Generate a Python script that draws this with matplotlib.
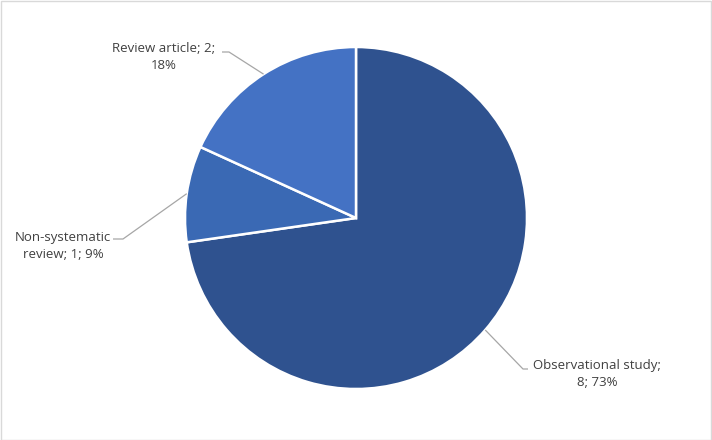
import numpy as np
import matplotlib.pyplot as plt
from matplotlib.patches import Rectangle

# chart data
categories = ['Observational study', 'Non-systematic review', 'Review article']
counts = [8, 1, 2]
label_texts = ['Observational study;\n8; 73%', 'Non-systematic\nreview; 1; 9%', 'Review article; 2;\n18%']
colors = ['#2F528F', '#3A69B4', '#4472C4']

W, H = 712, 440
cx, cy, R = 356, H - 218, 171

fig = plt.figure(figsize=(W / 100, H / 100), dpi=100)
ax = fig.add_axes([0, 0, 1, 1])
ax.set_xlim(0, W)
ax.set_ylim(0, H)
ax.set_aspect('equal')
ax.axis('off')

wedges, _ = ax.pie(counts, colors=colors, startangle=90, counterclock=False,
                   center=(cx, cy), radius=R, frame=True,
                   wedgeprops=dict(edgecolor='white', linewidth=1.8))
ax.set_xlim(0, W)
ax.set_ylim(0, H)
ax.axis('off')

# label layout: text center, elbow point (in pixels from top-left)
layout = [
    dict(text=(597, 374), elbow=[(528, 369), (523, 369)]),
    dict(text=(63, 246), elbow=[(113, 239), (123, 239)]),
    dict(text=(164, 57), elbow=[(222, 52), (229, 52)]),
]

for w, lab, lay in zip(wedges, label_texts, layout):
    mid = np.deg2rad((w.theta1 + w.theta2) / 2)
    ax_pt = (cx + R * np.cos(mid), cy + R * np.sin(mid))
    pts = [(x, H - y) for x, y in lay['elbow']] + [ax_pt]
    xs, ys = zip(*pts)
    ax.plot(xs, ys, color='#A6A6A6', lw=0.9, solid_capstyle='butt')
    tx, ty = lay['text']
    ax.text(tx, H - ty, lab, ha='center', va='center', fontsize=9.5,
            color='#404040', family='Open Sans', linespacing=1.35)

fig.patches.append(Rectangle((0.5 / W, 0.5 / H), 1 - 1.5 / W, 1 - 1.5 / H,
                             transform=fig.transFigure, fill=False,
                             edgecolor='#D9D9D9', lw=1))

plt.savefig('out.png', dpi=100)
